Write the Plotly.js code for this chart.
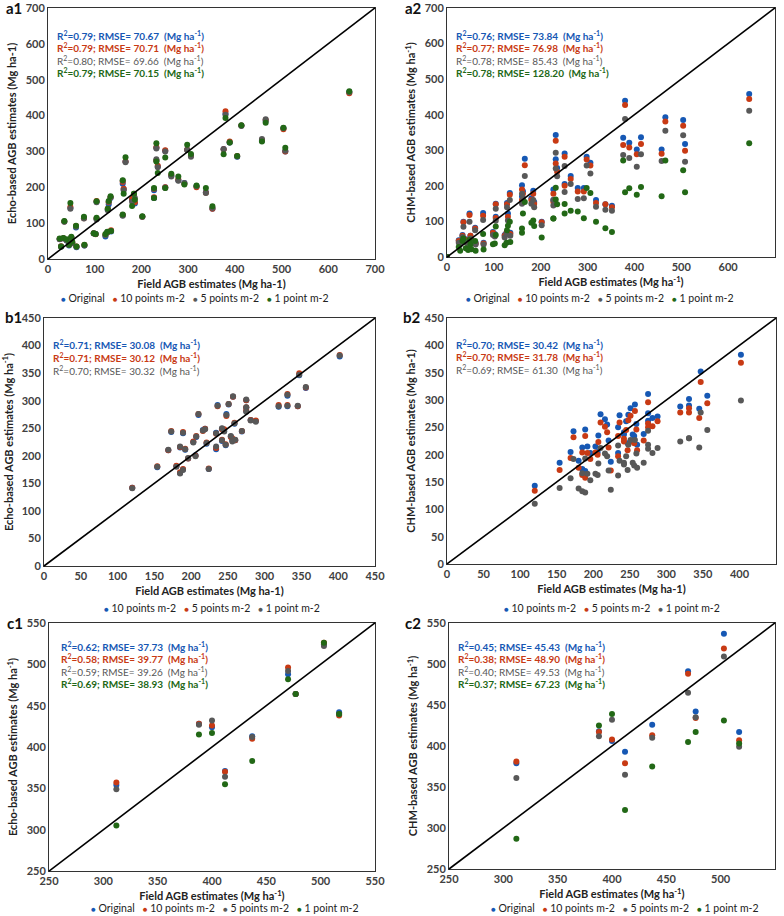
<!DOCTYPE html>
<html>
<head>
<meta charset="utf-8">
<script src="https://cdn.plot.ly/plotly-3.0.1.min.js"></script>
<style>
  html, body { margin: 0; padding: 0; background: #fff; }
  #chart { width: 784px; height: 916px; }
</style>
</head>
<body>
<div id="chart"></div>
<script>
// ---- row a: field plots (Mg ha-1) ----
var fieldA = [0,25,28,33,35,40,45,48,50,52,60,61,77,78,98,104,104,102,123,127,128,130,134,135,160,160,166,162,184,180,186,202,227,227,232,232,235,251,251,264,279,292,298,306,318,338,352,376,380,389,405,414,458,466,504,508,645];

var a1Orig = [null,55,35,58,105,52,38,142,60,45,88,33,115,38,72,160,112,70,63,75,138,152,170,77,210,122,272,195,180,165,155,118,192,170,310,275,258,302,200,232,220,212,305,290,203,186,140,307,405,325,285,372,330,385,365,300,466];
var a1P10 = [null,56,36,58,105,53,40,145,60,46,92,35,114,39,72,162,113,69,68,74,140,158,172,80,215,123,272,196,180,168,158,118,195,172,312,275,260,303,200,234,222,210,305,288,200,185,140,306,412,328,287,372,332,388,362,300,462];
var a1P5 = [null,56,34,57,104,52,39,140,60,44,90,34,113,38,71,158,110,70,66,75,136,160,172,78,218,121,270,192,182,160,170,118,196,170,308,278,256,300,198,230,218,212,304,285,203,184,142,306,402,325,286,371,335,390,365,302,465];
var a1P1 = [null,57,35,59,106,55,40,156,62,48,93,35,118,40,72,161,115,70,70,76,140,162,175,78,220,124,284,182,182,148,165,119,198,170,323,272,240,283,198,238,230,208,319,293,205,198,147,292,393,325,287,373,328,380,366,310,468];

var a2Orig = [0,47,42,62,99,50,40,122,60,48,82,40,124,40,70,150,113,65,62,68,152,122,180,68,202,170,276,185,186,165,155,99,190,160,343,275,250,291,205,228,194,194,282,265,160,148,144,335,439,321,302,337,302,393,385,318,458];
var a2P10 = [0,45,40,60,98,48,38,118,60,45,80,38,116,38,68,148,110,62,60,68,148,113,175,65,190,160,258,178,178,160,150,98,178,155,327,263,240,282,200,219,184,184,274,257,152,148,140,315,427,308,289,318,290,381,369,299,444];
var a2P5 = [0,40,36,56,85,42,35,99,52,40,75,35,104,35,62,136,102,58,55,65,140,103,160,60,178,150,228,165,160,150,140,89,160,145,293,249,227,256,183,205,163,165,257,235,141,133,130,287,388,278,254,289,270,355,342,268,411];
var a2P1 = [0,28,18,45,52,25,20,48,35,22,45,18,65,21,36,86,62,38,33,40,75,88,99,42,80,68,155,122,103,96,87,55,108,108,195,162,148,122,149,130,128,109,194,180,99,81,70,271,182,193,175,197,171,271,244,182,320];

// ---- row b ----
var fieldB = [120,154,169,173,180,185,185,189,189,192,196,203,206,207,210,216,219,221,224,234,234,236,242,242,245,247,248,251,254,256,257,259,260,269,275,275,275,281,288,319,331,331,345,347,356,402];

var b1P10 = [142,179,210,243,181,215,169,241,175,211,195,225,201,234,274,247,249,222,176,212,242,292,227,249,245,219,276,293,235,228,307,258,228,244,301,287,281,265,263,289,309,290,290,346,323,380];
var b1P5 = [142,181,210,245,182,216,170,243,176,213,195,226,200,236,276,245,249,224,177,214,240,290,229,248,248,221,272,294,234,232,307,260,228,245,301,288,282,265,264,292,312,292,290,350,324,383];
var b1P1 = [141,180,211,244,180,217,168,242,174,212,196,224,199,235,276,246,248,223,176,217,241,291,228,250,244,220,274,294,236,226,308,259,229,245,302,288,280,264,262,290,311,291,291,347,325,382];

var b2P10 = [143,185,205,243,189,213,174,246,170,215,203,215,205,235,274,265,255,226,187,203,250,272,241,237,261,221,273,285,237,234,292,256,218,238,311,276,262,267,270,288,302,290,284,352,308,383];
var b2P5 = [134,172,194,232,176,204,163,234,158,203,192,204,200,223,259,251,241,213,171,197,234,259,229,224,245,208,263,271,224,221,280,246,208,226,296,257,250,252,261,277,285,277,267,333,294,368];
var b2P1 = [110,139,157,192,138,166,133,193,131,165,153,165,163,184,212,202,197,171,136,162,217,189,185,182,197,172,218,227,185,180,227,202,176,185,244,218,211,203,212,224,230,230,213,277,245,299];

// ---- row c ----
var fieldC = [312,388,400,412,437,470,477,503,517];
var c1Orig = [354,428,424,371,413,488,464,524,442];
var c1P10 = [357,428,426,370,410,496,464,526,438];
var c1P5 = [349,427,432,364,412,492,464,522,440];
var c1P1 = [305,415,417,355,383,482,464,526,440];
var c2Orig = [379,418,406,393,426,491,442,537,417];
var c2P10 = [381,417,408,379,413,488,434,519,407];
var c2P5 = [361,412,432,365,410,465,435,509,399];
var c2P1 = [287,425,439,322,375,405,417,431,403];

// ---- fit statistics [R2, RMSE] ----
var statsA1 = [['0.79','70.67'],['0.79','70.71'],['0.80','69.66'],['0.79','70.15']];
var statsA2 = [['0.76','73.84'],['0.77','76.98'],['0.78','85.43'],['0.78','128.20']];
var statsB1 = [['0.71','30.08'],['0.71','30.12'],['0.70','30.32']];
var statsB2 = [['0.70','30.42'],['0.70','31.78'],['0.69','61.30']];
var statsC1 = [['0.62','37.73'],['0.58','39.77'],['0.59','39.26'],['0.69','38.93']];
var statsC2 = [['0.45','45.43'],['0.38','48.90'],['0.40','49.53'],['0.37','67.23']];

var legendFour = ['Original','10 points m-2','5 points m-2','1 point m-2'];
var legendThree = ['10 points m-2','5 points m-2','1 point m-2'];

var BLUE = 'rgb(22,88,180)', RED = 'rgb(200,58,20)', GRAY = 'rgb(88,88,88)', GREEN = 'rgb(34,104,22)';
var colsFour = [BLUE, RED, GRAY, GREEN];
var colsThree = [BLUE, RED, GRAY];
var FONT = 'Lato, "Open Sans", sans-serif';
var W = 784, H = 916;
function px(x) { return x / W; }
function py(y) { return 1 - y / H; }

var data = [];
function addSeries(xs, ys, xa, ya, colors, names) {
  ys.forEach(function (y, i) {
    data.push({
      x: xs, y: y, xaxis: xa, yaxis: ya, type: 'scatter', mode: 'markers',
      name: names[i], showlegend: false,
      marker: { color: colors[i], size: 6 }
    });
  });
}
addSeries(fieldA, [a1Orig, a1P10, a1P5, a1P1], 'x', 'y', colsFour, legendFour);
addSeries(fieldA, [a2Orig, a2P10, a2P5, a2P1], 'x2', 'y2', colsFour, legendFour);
addSeries(fieldB, [b1P10, b1P5, b1P1], 'x3', 'y3', colsThree, legendThree);
addSeries(fieldB, [b2P10, b2P5, b2P1], 'x4', 'y4', colsThree, legendThree);
addSeries(fieldC, [c1Orig, c1P10, c1P5, c1P1], 'x5', 'y5', colsFour, legendFour);
addSeries(fieldC, [c2Orig, c2P10, c2P5, c2P1], 'x6', 'y6', colsFour, legendFour);

function xax(dom, range, dtick, title, anchor) {
  return {
    domain: dom, range: range, dtick: dtick, anchor: anchor,
    showgrid: false, zeroline: false, showline: true, mirror: true,
    linecolor: '#333', linewidth: 1, ticks: '',
    tickfont: { family: FONT, size: 11, color: '#404040', weight: 'bold' },
    title: { text: title, font: { family: FONT, size: 11, color: '#222', weight: 'bold' }, standoff: 6 }
  };
}
var SUP = '<sup>-1</sup>';
var layout = {
  width: W, height: H, showlegend: false,
  margin: { l: 0, r: 0, t: 0, b: 0 },
  paper_bgcolor: '#fff', plot_bgcolor: '#fff',
  font: { family: FONT, size: 11 },
  xaxis: xax([0.0612, 0.4783], [0, 700], 100, 'Field AGB estimates (Mg ha-1)', 'y'),
  yaxis: xax([0.7172, 0.9913], [0, 700], 100, 'Echo-based AGB estimates (Mg ha-1)', 'x'),
  xaxis2: xax([0.5702, 0.9885], [0, 700], 100, 'Field AGB estimates (Mg ha' + SUP + ')', 'y2'),
  yaxis2: xax([0.7194, 0.9913], [0, 700], 100, 'CHM-based AGB estimates (Mg ha' + SUP + ')', 'x2'),
  xaxis3: xax([0.0561, 0.4783], [0, 450], 50, 'Field AGB estimates (Mg ha-1)', 'y3'),
  yaxis3: xax([0.3821, 0.6528], [0, 450], 50, 'Echo-based AGB estimates (Mg ha' + SUP + ')', 'x3'),
  xaxis4: xax([0.5702, 0.9898], [0, 450], 50, 'Field AGB estimates (Mg ha-1)', 'y4'),
  yaxis4: xax([0.3843, 0.6528], [0, 450], 50, 'CHM-based AGB estimates (Mg ha-1)', 'x4'),
  xaxis5: xax([0.0625, 0.4783], [250, 550], 50, 'Field AGB estimates (Mg ha' + SUP + ')', 'y5'),
  yaxis5: xax([0.0491, 0.3199], [250, 550], 50, 'Echo-based AGB estimates (Mg ha' + SUP + ')', 'x5'),
  xaxis6: xax([0.5727, 0.9885], [250, 550], 50, 'Field AGB estimates (Mg ha' + SUP + ')', 'y6'),
  yaxis6: xax([0.0513, 0.3199], [250, 550], 50, 'CHM-based AGB estimates (Mg ha' + SUP + ')', 'x6'),
  shapes: [], annotations: []
};

// 1:1 lines across each plot area
['', '2', '3', '4', '5', '6'].forEach(function (s) {
  layout.shapes.push({
    type: 'line', xref: 'x' + s + ' domain', yref: 'y' + s + ' domain',
    x0: 0, y0: 0, x1: 1, y1: 1, line: { color: '#000', width: 1.6 }
  });
});

// panel labels
[['a1', 4, 8], ['a2', 403, 8], ['b1', 3, 317], ['b2', 401, 317], ['c1', 5, 623], ['c2', 403, 623]].forEach(function (p) {
  layout.annotations.push({
    text: p[0], xref: 'paper', yref: 'paper', x: px(p[1]), y: py(p[2]),
    xanchor: 'left', yanchor: 'middle', showarrow: false,
    font: { family: FONT, size: 15, color: '#111', weight: 'bold' }
  });
});

// statistics text
function addStats(stats, colors, x0, ys) {
  stats.forEach(function (s, i) {
    var t = 'R<sup>2</sup>=' + s[0] + '; RMSE= ' + s[1] + '  (Mg ha' + SUP + ')';
    layout.annotations.push({
      text: t, xref: 'paper', yref: 'paper', x: px(x0), y: py(ys[i]),
      xanchor: 'left', yanchor: 'middle', showarrow: false,
      font: { family: FONT, size: 10, color: colors[i], weight: colors[i] === GRAY ? 'normal' : 'bold' }
    });
  });
}
addStats(statsA1, colsFour, 55, [35, 47.5, 60, 72.5]);
addStats(statsA2, colsFour, 454, [35, 47.5, 60, 72.5]);
addStats(statsB1, colsThree, 51, [345, 357.5, 370]);
addStats(statsB2, colsThree, 454, [344, 356.5, 369]);
addStats(statsC1, colsFour, 59, [646, 658.5, 671, 683.5]);
addStats(statsC2, colsFour, 456, [646, 658.5, 671, 683.5]);

// legend rows under each panel
function addLegend(names, colors, cx, cy) {
  var t = names.map(function (n, i) {
    return '<span style="color:' + colors[i] + ';font-size:8px">\u25CF</span> ' + n;
  }).join('   ');
  layout.annotations.push({
    text: t, xref: 'paper', yref: 'paper', x: px(cx), y: py(cy),
    xanchor: 'center', yanchor: 'middle', showarrow: false,
    font: { family: FONT, size: 10.5, color: '#222' }
  });
}
addLegend(legendFour, colsFour, 195, 298);
addLegend(legendFour, colsFour, 600, 298);
addLegend(legendThree, colsThree, 212, 608);
addLegend(legendThree, colsThree, 612, 608);
addLegend(legendFour, colsFour, 225, 908);
addLegend(legendFour, colsFour, 625, 908);

Plotly.newPlot('chart', data, layout, { displayModeBar: false, staticPlot: true });
</script>
</body>
</html>
